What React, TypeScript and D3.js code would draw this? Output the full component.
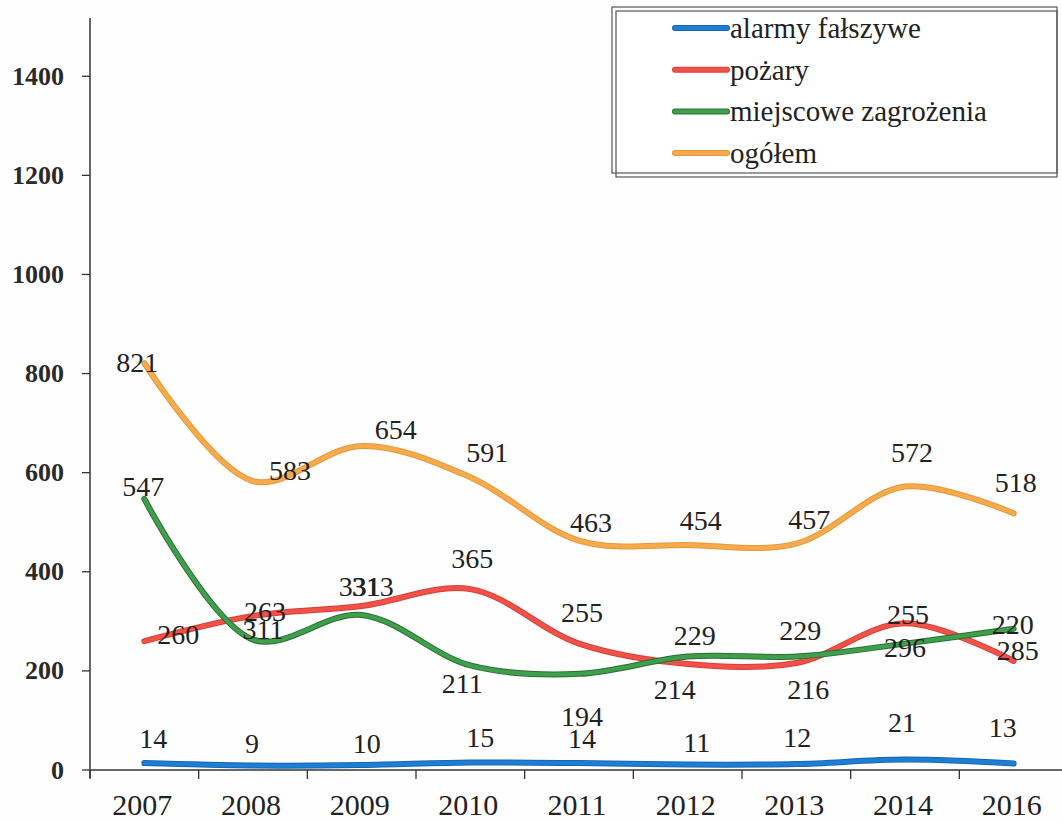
import React from "react";
import * as d3 from "d3";

// lata
const years = ["2007", "2008", "2009", "2010", "2011", "2012", "2013", "2014", "2016"];

// wartości serii
const alarmy = [14, 9, 10, 15, 14, 11, 12, 21, 13];
const pozary = [260, 311, 331, 365, 255, 214, 216, 296, 220];
const miejscowe = [547, 263, 313, 211, 194, 229, 229, 255, 285];
const ogolem = [821, 583, 654, 591, 463, 454, 457, 572, 518];

const seriesNames = ["alarmy fałszywe", "pożary", "miejscowe zagrożenia", "ogółem"];
const yTicks = [0, 200, 400, 600, 800, 1000, 1200, 1400];

// przesunięcia etykiet danych względem punktów (tak jak w oryginale)
const shiftAlarmy = [[9, -25], [-1, -22], [5, -22], [10, -25], [3, -25], [9, -22], [1, -27], [-3, -37], [-11, -36]];
const shiftPozary = [[34, -7], [10, 14], [-2, -19], [2, -31], [3, -31], [-13, 26], [12, 27], [0, 24], [-1, -36]];
const shiftMiejscowe = [[-1, -12], [12, -28], [11, -28], [-8, 18], [3, 43], [7, -21], [4, -26], [3, -29], [4, 22]];
const shiftOgolem = [[-7, -1], [37, -11], [34, -16], [17, -25], [12, -18], [13, -25], [13, -24], [7, -34], [2, -31]];

const series = [
  { name: seriesNames[0], values: alarmy, color: "#1c7fd4", edge: "#1667b0", shift: shiftAlarmy },
  { name: seriesNames[1], values: pozary, color: "#f0524a", edge: "#d84038", shift: shiftPozary },
  { name: seriesNames[2], values: miejscowe, color: "#3f9f4c", edge: "#2a6f34", shift: shiftMiejscowe },
  { name: seriesNames[3], values: ogolem, color: "#f5ab4c", edge: "#e8973a", shift: shiftOgolem },
];

const W = 1062;
const H = 822;
const left = 90;
const base = 770;

const serif = "Liberation Serif, Tinos, Times New Roman, DejaVu Serif, serif";
const font = { fontFamily: serif };

export default function App() {
  const x = d3.scaleBand<string>().domain(years).range([left, 1068]).padding(0);
  const y = d3.scaleLinear().domain([0, 1500]).range([base, 26.7]);
  const cx = (d: string) => (x(d) as number) + x.bandwidth() / 2;

  const line = d3
    .line<number>()
    .x((_, i) => cx(years[i]))
    .y((v) => y(v))
    .curve(d3.curveCatmullRom.alpha(0.5));

  return (
    <svg
      width={W}
      height={H}
      style={{ position: "absolute", left: 0, top: 0, background: "#fff", fontFamily: serif }}
    >
      <rect width={W} height={H} fill="#fefefe" />

      {/* oś Y */}
      <line x1={left} x2={left} y1={18} y2={base + 8} stroke="#333" strokeWidth={1.5} />
      {yTicks.map((t) => (
        <g key={t}>
          <line x1={left - 8} x2={left} y1={y(t)} y2={y(t)} stroke="#333" strokeWidth={1.3} />
          <text
            x={64}
            y={y(t)}
            textAnchor="end"
            dominantBaseline="central"
            fontSize={26}
            fontWeight="bold"
            fill="#2a2a2a"
            style={font}
          >
            {t}
          </text>
        </g>
      ))}

      {/* oś X */}
      <line x1={left} x2={1068} y1={base} y2={base} stroke="#333" strokeWidth={1.6} />
      {years.map((yr) => (
        <line
          key={"t" + yr}
          x1={x(yr)}
          x2={x(yr)}
          y1={base}
          y2={base + 9}
          stroke="#333"
          strokeWidth={1.3}
        />
      ))}
      {years.map((yr) => (
        <text key={"l" + yr} x={cx(yr) - 2} y={815} textAnchor="middle" fontSize={30} fill="#222" style={font}>
          {yr}
        </text>
      ))}

      {/* linie */}
      {series.map((s) => (
        <g key={s.name}>
          <path
            d={line(s.values) || ""}
            fill="none"
            stroke={s.edge}
            strokeWidth={6}
            strokeLinecap="round"
            strokeLinejoin="round"
          />
          <path
            d={line(s.values) || ""}
            fill="none"
            stroke={s.color}
            strokeWidth={4}
            strokeLinecap="round"
            strokeLinejoin="round"
          />
        </g>
      ))}

      {/* etykiety danych */}
      {series.map((s) =>
        s.values.map((v, i) => (
          <text
            key={s.name + i}
            x={cx(years[i]) + s.shift[i][0]}
            y={y(v) + s.shift[i][1]}
            textAnchor="middle"
            dominantBaseline="central"
            fontSize={28}
            fill="#222"
            style={font}
          >
            {v}
          </text>
        ))
      )}

      {/* legenda */}
      <rect x={612} y={7} width={445} height={166} fill="#fff" stroke="#555" strokeWidth={1.2} />
      <rect x={616} y={11} width={441} height={166} fill="none" stroke="#555" strokeWidth={1.2} />
      {series.map((s, i) => {
        const ly = 28 + i * 41.7;
        return (
          <g key={"lg" + s.name}>
            <line x1={675} x2={727} y1={ly} y2={ly} stroke={s.edge} strokeWidth={6} strokeLinecap="round" />
            <line x1={675} x2={727} y1={ly} y2={ly} stroke={s.color} strokeWidth={4} strokeLinecap="round" />
            <text x={730} y={ly} dominantBaseline="central" fontSize={29} fill="#222" style={font}>
              {s.name}
            </text>
          </g>
        );
      })}
    </svg>
  );
}
